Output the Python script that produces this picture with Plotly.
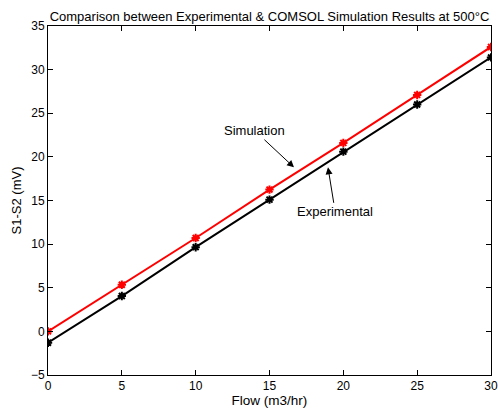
import plotly.graph_objects as go

flow = [0, 5, 10, 15, 20, 25, 30]
simulation = [0.0, 5.35, 10.7, 16.25, 21.6, 27.1, 32.6]
experimental = [-1.3, 4.05, 9.65, 15.1, 20.6, 26.0, 31.4]
tick_vals_x = [0, 5, 10, 15, 20, 25, 30]
tick_vals_y = [-5, 0, 5, 10, 15, 20, 25, 30, 35]

fig = go.Figure()
fig.add_trace(go.Scatter(x=flow, y=experimental, mode="lines+markers", name="Experimental",
                         line=dict(color="black", width=2),
                         marker=dict(symbol="asterisk-open", size=7, line=dict(color="black", width=2))))
fig.add_trace(go.Scatter(x=flow, y=simulation, mode="lines+markers", name="Simulation",
                         line=dict(color="red", width=2),
                         marker=dict(symbol="asterisk-open", size=7, line=dict(color="red", width=2))))

fam = "Liberation Sans, Arial, sans-serif"
font = dict(family=fam, size=12, color="black")
afont = dict(family=fam, size=13, color="black")

fig.add_annotation(x=16.66, y=18.8, ax=14.0, ay=23.0, xref="x", yref="y", axref="x", ayref="y",
                   text="Simulation", showarrow=True, arrowhead=2, arrowsize=1.4, arrowwidth=1,
                   arrowcolor="black", font=afont)
fig.add_annotation(x=18.96, y=18.8, ax=19.45, ay=13.7, xref="x", yref="y", axref="x", ayref="y",
                   text="Experimental", showarrow=True, arrowhead=2, arrowsize=1.4, arrowwidth=1,
                   arrowcolor="black", font=afont)

fig.update_layout(
    width=498, height=411,
    margin=dict(l=48, r=7, t=26, b=36),
    paper_bgcolor="white", plot_bgcolor="white",
    showlegend=False,
    font=font,
    title=dict(text="Comparison between Experimental & COMSOL Simulation Results at 500°C",
               x=0.5, xref="paper", y=1, yref="paper", yanchor="bottom", pad=dict(b=5),
               font=dict(family=fam, size=13, color="black")),
)
fig.update_xaxes(range=[0, 30], tickvals=tick_vals_x, ticks="inside", ticklen=5, tickcolor="black",
                 showline=True, linecolor="black", linewidth=1, mirror="ticks", showgrid=False,
                 zeroline=False, automargin=False,
                 title=dict(text="Flow (m3/hr)", standoff=3, font=dict(family=fam, size=13.5, color="black")),
                 tickfont=dict(family=fam, size=12, color="black"))
fig.update_yaxes(range=[-5, 35], tickvals=tick_vals_y, ticks="inside", ticklen=5, tickcolor="black",
                 showline=True, linecolor="black", linewidth=1, mirror="ticks", showgrid=False,
                 zeroline=False, automargin=False,
                 title=dict(text="S1-S2 (mV)", standoff=6, font=dict(family=fam, size=13, color="black")),
                 tickfont=dict(family=fam, size=12, color="black"))

fig.write_html("out.html")
